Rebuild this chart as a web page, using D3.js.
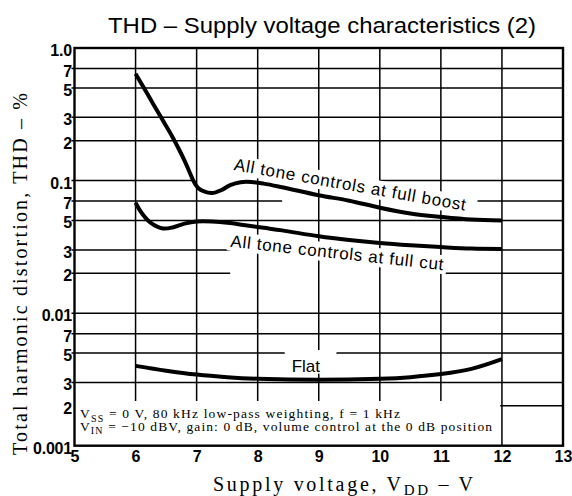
<!DOCTYPE html>
<html>
<head>
<meta charset="utf-8">
<script src="https://cdn.jsdelivr.net/npm/d3@7"></script>
<style>
  html, body { margin: 0; padding: 0; background: #fff; }
  svg { display: block; }
</style>
</head>
<body>
<svg id="chart" width="572" height="496"></svg>
<script>
// THD vs supply voltage, three operating conditions
const boostVoltage = [6.0, 6.2, 6.4, 6.6, 6.7, 6.8, 6.88, 6.95, 7.03, 7.12, 7.25, 7.4, 7.55, 7.72, 7.9, 8.1, 8.4, 9.0, 9.5, 10.0, 10.5, 11.0, 11.5, 12.0];
const boostTHD = [0.64, 0.445, 0.309, 0.215, 0.176, 0.142, 0.117, 0.099, 0.0875, 0.0828, 0.0805, 0.0845, 0.0925, 0.0972, 0.0975, 0.0948, 0.089, 0.0775, 0.0705, 0.0624, 0.0565, 0.0532, 0.0508, 0.05];

const cutVoltage = [6.0, 6.1, 6.25, 6.45, 6.62, 6.8, 7.0, 7.25, 7.55, 7.8, 8.1, 8.4, 9.0, 9.5, 10.0, 10.5, 11.0, 11.5, 12.0];
const cutTHD = [0.068, 0.057, 0.048, 0.0435, 0.0445, 0.0473, 0.0492, 0.0492, 0.0478, 0.046, 0.044, 0.0421, 0.038, 0.0356, 0.0338, 0.0325, 0.0315, 0.0307, 0.0305];

const flatVoltage = [6.0, 6.5, 7.0, 7.5, 8.0, 9.0, 10.0, 10.5, 11.0, 11.5, 12.0];
const flatTHD = [0.0040, 0.00368, 0.00344, 0.00329, 0.0032, 0.00314, 0.0032, 0.00329, 0.00347, 0.0038, 0.0045];

const xTickValues = [5, 6, 7, 8, 9, 10, 11, 12, 13];
const yTickValues = [0.001, 0.002, 0.003, 0.005, 0.007, 0.01, 0.02, 0.03, 0.05, 0.07, 0.1, 0.2, 0.3, 0.5, 0.7, 1];
const yTickLabels = ["0.001", "2", "3", "5", "7", "0.01", "2", "3", "5", "7", "0.1", "2", "3", "5", "7", "1.0"];

const titleText = "THD \u2013 Supply voltage characteristics (2)";
const boostLabel = "All tone controls at full boost";
const cutLabel = "All tone controls at full cut";
const flatLabel = "Flat";

// Breaks in the horizontal rulings, in volts
const gridGaps = [
  { v: 0.1, from: 6.97, to: 10.0 },
  { v: 0.07, from: 8.4, to: 11.6 },
  { v: 0.03, from: 7.55, to: 12.0 },
  { v: 0.02, from: 7.55, to: 11.07 },
  { v: 0.005, from: 8.45, to: 9.29 },
  { v: 0.002, from: 5.0, to: 11.97 }
];

const svg = d3.select("#chart");
const x = d3.scaleLinear().domain([5, 13]).range([74.5, 563]);
const y = d3.scaleLog().domain([0.001, 1]).range([445.7, 48]);

const sans = "'Liberation Sans', Arial, sans-serif";
const serif = "'Liberation Serif', 'Times New Roman', serif";

// Title
svg.append("text")
  .attr("x", 108).attr("y", 33.3)
  .attr("font-family", sans).attr("font-size", 22)
  .attr("textLength", 428).attr("lengthAdjust", "spacingAndGlyphs")
  .text(titleText);

// Grid
const grid = svg.append("g").attr("stroke", "#000").attr("stroke-width", 1.5);
yTickValues.filter(v => v > 0.001 && v < 1).forEach(v => {
  const gaps = gridGaps.filter(g => g.v === v).sort((a, b) => a.from - b.from);
  let start = 5;
  const segs = [];
  gaps.forEach(g => { segs.push([start, g.from]); start = g.to; });
  segs.push([start, 13]);
  segs.forEach(([a, b]) => {
    if (b - a <= 0.001) return;
    grid.append("line")
      .attr("x1", a === 5 ? x(5) - 3 : x(a)).attr("x2", x(b))
      .attr("y1", y(v)).attr("y2", y(v));
  });
});
xTickValues.filter(v => v > 5 && v < 13).forEach(v => {
  grid.append("line")
    .attr("x1", x(v)).attr("x2", x(v))
    .attr("y1", y(1)).attr("y2", y(0.001));
});

const maskLayer = svg.append("g");
const curveLayer = svg.append("g");
const labelLayer = svg.append("g");

// Annotation block
const noteG = labelLayer.append("g").attr("font-family", serif).attr("font-size", 13.5);
maskLayer.append("rect")
  .attr("x", x(5) + 1).attr("y", 401)
  .attr("width", x(11.97) - x(5) - 1).attr("height", y(0.001) - 401)
  .attr("fill", "#fff");

function noteLine(yPos, sub, rest, len) {
  const t = noteG.append("text").attr("x", 80).attr("y", yPos)
    .attr("textLength", len).attr("lengthAdjust", "spacing");
  t.append("tspan").text("V");
  t.append("tspan").attr("font-size", 10).attr("dy", 3.5).text(sub);
  t.append("tspan").attr("dy", -3.5).text(rest);
}
noteLine(418.3, "SS", " = 0 V, 80 kHz low-pass weighting, f = 1 kHz", 320);
noteLine(430.9, "IN", " = \u221210 dBV, gain: 0 dB, volume control at the 0 dB position", 412);

// Curve labels
function slantedLabel(text, px, py, angle, len) {
  const g = labelLayer.append("g")
    .attr("transform", `translate(${px},${py}) rotate(${angle})`);
  const t = g.append("text")
    .attr("font-family", sans).attr("font-size", 17)
    .attr("textLength", len).attr("lengthAdjust", "spacing")
    .text(text);
  const b = t.node().getBBox();
  maskLayer.append("rect")
    .attr("transform", `translate(${px},${py}) rotate(${angle})`)
    .attr("x", b.x - 3).attr("y", b.y).attr("width", b.width + 6).attr("height", b.height)
    .attr("fill", "#fff");
}
slantedLabel(boostLabel, 233.3, 170, 9.95, 235);
slantedLabel(cutLabel, 230, 246.7, 6.3, 214);

const flat = labelLayer.append("text")
  .attr("x", 291.7).attr("y", 371.7)
  .attr("font-family", sans).attr("font-size", 17)
  .text(flatLabel);
const fb = flat.node().getBBox();
maskLayer.append("rect")
  .attr("x", fb.x - 7).attr("y", 350)
  .attr("width", fb.width + 16).attr("height", 371.7 + 2 - 350)
  .attr("fill", "#fff");

// Curves
const line = d3.line()
  .x(d => x(d[0]))
  .y(d => y(d[1]))
  .curve(d3.curveCatmullRom.alpha(0.5));

[[boostVoltage, boostTHD], [cutVoltage, cutTHD], [flatVoltage, flatTHD]].forEach(([vs, ts]) => {
  curveLayer.append("path")
    .datum(vs.map((v, i) => [v, ts[i]]))
    .attr("d", line)
    .attr("fill", "none")
    .attr("stroke", "#000")
    .attr("stroke-width", 4)
    .attr("stroke-linejoin", "round")
    .attr("stroke-linecap", "butt");
});

// Frame
svg.append("rect")
  .attr("x", x(5)).attr("y", y(1))
  .attr("width", x(13) - x(5)).attr("height", y(0.001) - y(1))
  .attr("fill", "none").attr("stroke", "#000").attr("stroke-width", 2.4);

// Axes (labels only, rulings drawn above)
const yAxis = d3.axisLeft(y)
  .tickValues(yTickValues)
  .tickFormat((d, i) => yTickLabels[i])
  .tickSize(0).tickPadding(2.5);
const yG = svg.append("g").attr("transform", `translate(${x(5)},0)`).call(yAxis);
yG.select(".domain").remove();
yG.selectAll("text")
  .attr("font-family", sans).attr("font-size", 16).attr("font-weight", "bold")
  .attr("fill", "#000").attr("dy", "7.5").attr("letter-spacing", -0.2);

const xAxis = d3.axisBottom(x).tickValues(xTickValues).tickFormat(d3.format("d")).tickSize(0).tickPadding(0);
const xG = svg.append("g").attr("transform", `translate(0,${y(0.001)})`).call(xAxis);
xG.select(".domain").remove();
xG.selectAll("text")
  .attr("font-family", sans).attr("font-size", 16).attr("font-weight", "bold")
  .attr("fill", "#000").attr("dy", 0).attr("y", 16.5);

// Axis titles
const xt = svg.append("text")
  .attr("x", 213).attr("y", 491)
  .attr("font-family", serif).attr("font-size", 20)
  .attr("textLength", 260).attr("lengthAdjust", "spacing");
xt.append("tspan").text("Supply voltage, V");
xt.append("tspan").attr("font-size", 15).attr("dy", 3.5).text("DD");
xt.append("tspan").attr("dy", -3.5).text(" \u2013 V");

svg.append("text")
  .attr("transform", "translate(27,274) rotate(-90)")
  .attr("text-anchor", "middle")
  .attr("font-family", serif).attr("font-size", 20)
  .attr("textLength", 362).attr("lengthAdjust", "spacing")
  .text("Total harmonic distortion, THD \u2013 %");
</script>
</body>
</html>
